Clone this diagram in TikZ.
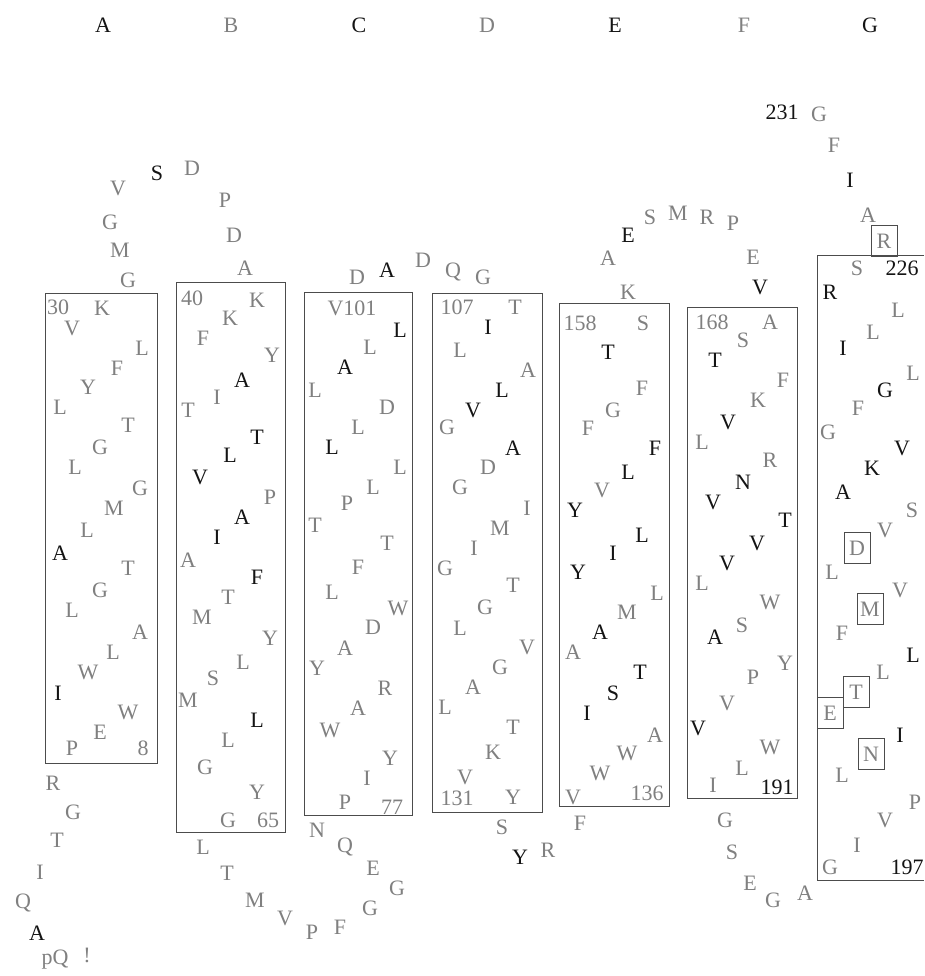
\documentclass[tikz,border=0pt]{standalone}
\usepackage{fontspec}
\setmainfont{Liberation Serif}
\definecolor{resgray}{gray}{0.5}
\definecolor{resblack}{gray}{0.08}
\definecolor{boxline}{gray}{0.3}
\begin{document}
\begin{tikzpicture}[x=1pt,y=-1pt,
 gr/.style={text=resgray,font=\fontsize{22}{26}\selectfont,inner sep=0pt},
 bk/.style={text=resblack,font=\fontsize{22}{26}\selectfont,inner sep=0pt},
 tm/.style={draw=boxline,line width=1pt},
 bx/.style={draw=boxline,line width=0.8pt,minimum width=26pt,minimum height=31pt,inner sep=0pt}]
\useasboundingbox (0,0) rectangle (924,976);
\fill[white] (0,0) rectangle (924,976);
% header
\node[bk] (h1) at (103,25) {A};
\node[gr] (h2) at (231,25) {B};
\node[bk] (h3) at (359,25) {C};
\node[gr] (h4) at (487,25) {D};
\node[bk] (h5) at (615,25) {E};
\node[gr] (h6) at (744,25) {F};
\node[bk] (h7) at (870,25) {G};
% transmembrane boxes
\draw[tm] (45,293) rectangle (157,763);
\draw[tm] (176,282) rectangle (285,832);
\draw[tm] (304,292) rectangle (412,815);
\draw[tm] (432,293) rectangle (542,812);
\draw[tm] (559,303) rectangle (669,806);
\draw[tm] (687,307) rectangle (797,798);
\draw[tm] (924,255) -- (817,255) -- (817,880) -- (924,880);
% loop A-B
\node[gr] (l1) at (128,280) {G};
\node[gr] (l2) at (120,250) {M};
\node[gr] (l3) at (110,222) {G};
\node[gr] (l4) at (118,188) {V};
\node[bk] (l5) at (157,173) {S};
\node[gr] (l6) at (192,168) {D};
\node[gr] (l7) at (225,200) {P};
\node[gr] (l8) at (234,235) {D};
\node[gr] (l9) at (245,268) {A};
% helix A
\node[gr] (a1) at (58,307) {30};
\node[gr] (a2) at (102,308) {K};
\node[gr] (a3) at (72,328) {V};
\node[gr] (a4) at (142,348) {L};
\node[gr] (a5) at (117,368) {F};
\node[gr] (a6) at (88,387) {Y};
\node[gr] (a7) at (60,407) {L};
\node[gr] (a8) at (128,425) {T};
\node[gr] (a9) at (100,447) {G};
\node[gr] (a10) at (75,467) {L};
\node[gr] (a11) at (140,488) {G};
\node[gr] (a12) at (114,508) {M};
\node[gr] (a13) at (87,530) {L};
\node[bk] (a14) at (60,553) {A};
\node[gr] (a15) at (128,568) {T};
\node[gr] (a16) at (100,590) {G};
\node[gr] (a17) at (72,610) {L};
\node[gr] (a18) at (140,632) {A};
\node[gr] (a19) at (113,652) {L};
\node[gr] (a20) at (88,672) {W};
\node[bk] (a21) at (58,693) {I};
\node[gr] (a22) at (128,712) {W};
\node[gr] (a23) at (100,732) {E};
\node[gr] (a24) at (72,748) {P};
\node[gr] (a25) at (143,748) {8};
% N-terminal tail
\node[gr] (n1) at (53,783) {R};
\node[gr] (n2) at (73,812) {G};
\node[gr] (n3) at (57,840) {T};
\node[gr] (n4) at (40,872) {I};
\node[gr] (n5) at (23,903) {Q};
\node[bk] (n6) at (37,933) {A};
\node[gr] (n7) at (55,960) {pQ};
\node[gr] (n8) at (87,955) {!};
% helix B
\node[gr] (b1) at (192,298) {40};
\node[gr] (b2) at (257,300) {K};
\node[gr] (b3) at (230,318) {K};
\node[gr] (b4) at (203,338) {F};
\node[gr] (b5) at (272,355) {Y};
\node[bk] (b6) at (242,380) {A};
\node[gr] (b7) at (217,397) {I};
\node[gr] (b8) at (188,410) {T};
\node[bk] (b9) at (257,437) {T};
\node[bk] (b10) at (230,455) {L};
\node[bk] (b11) at (200,477) {V};
\node[gr] (b12) at (270,497) {P};
\node[bk] (b13) at (242,517) {A};
\node[bk] (b14) at (217,537) {I};
\node[gr] (b15) at (188,560) {A};
\node[bk] (b16) at (257,577) {F};
\node[gr] (b17) at (228,597) {T};
\node[gr] (b18) at (202,617) {M};
\node[gr] (b19) at (270,638) {Y};
\node[gr] (b20) at (243,662) {L};
\node[gr] (b21) at (213,678) {S};
\node[gr] (b22) at (188,700) {M};
\node[bk] (b23) at (257,720) {L};
\node[gr] (b24) at (228,740) {L};
\node[gr] (b25) at (205,767) {G};
\node[gr] (b26) at (257,792) {Y};
\node[gr] (b27) at (228,820) {G};
\node[gr] (b28) at (268,820) {65};
% loop B-C
\node[gr] (m1) at (203,847) {L};
\node[gr] (m2) at (227,873) {T};
\node[gr] (m3) at (255,900) {M};
\node[gr] (m4) at (285,918) {V};
\node[gr] (m5) at (312,932) {P};
\node[gr] (m6) at (340,927) {F};
\node[gr] (m7) at (370,908) {G};
\node[gr] (m8) at (397,888) {G};
\node[gr] (m9) at (373,868) {E};
\node[gr] (m10) at (345,847) {Q};
\node[gr] (m11) at (317,830) {N};
% loop C-D
\node[gr] (o1) at (357,277) {D};
\node[bk] (o2) at (387,270) {A};
\node[gr] (o3) at (423,260) {D};
\node[gr] (o4) at (453,272) {Q};
\node[gr] (o5) at (483,277) {G};
% helix C
\node[gr] (c1) at (352,308) {V101};
\node[bk] (c2) at (400,330) {L};
\node[gr] (c3) at (370,347) {L};
\node[bk] (c4) at (345,367) {A};
\node[gr] (c5) at (315,390) {L};
\node[gr] (c6) at (387,407) {D};
\node[gr] (c7) at (358,427) {L};
\node[bk] (c8) at (332,447) {L};
\node[gr] (c9) at (400,467) {L};
\node[gr] (c10) at (373,487) {L};
\node[gr] (c11) at (347,503) {P};
\node[gr] (c12) at (315,525) {T};
\node[gr] (c13) at (387,543) {T};
\node[gr] (c14) at (358,567) {F};
\node[gr] (c15) at (332,592) {L};
\node[gr] (c16) at (398,608) {W};
\node[gr] (c17) at (373,627) {D};
\node[gr] (c18) at (345,648) {A};
\node[gr] (c19) at (317,668) {Y};
\node[gr] (c20) at (385,688) {R};
\node[gr] (c21) at (358,708) {A};
\node[gr] (c22) at (330,730) {W};
\node[gr] (c23) at (390,758) {Y};
\node[gr] (c24) at (367,778) {I};
\node[gr] (c25) at (345,802) {P};
\node[gr] (c26) at (392,807) {77};
% helix D
\node[gr] (d1) at (457,307) {107};
\node[gr] (d2) at (515,307) {T};
\node[bk] (d3) at (488,327) {I};
\node[gr] (d4) at (460,350) {L};
\node[gr] (d5) at (528,370) {A};
\node[bk] (d6) at (502,390) {L};
\node[bk] (d7) at (473,410) {V};
\node[gr] (d8) at (447,427) {G};
\node[bk] (d9) at (513,448) {A};
\node[gr] (d10) at (488,467) {D};
\node[gr] (d11) at (460,487) {G};
\node[gr] (d12) at (527,508) {I};
\node[gr] (d13) at (500,528) {M};
\node[gr] (d14) at (474,548) {I};
\node[gr] (d15) at (445,568) {G};
\node[gr] (d16) at (513,585) {T};
\node[gr] (d17) at (485,607) {G};
\node[gr] (d18) at (460,628) {L};
\node[gr] (d19) at (527,647) {V};
\node[gr] (d20) at (500,667) {G};
\node[gr] (d21) at (473,687) {A};
\node[gr] (d22) at (445,707) {L};
\node[gr] (d23) at (513,727) {T};
\node[gr] (d24) at (493,752) {K};
\node[gr] (d25) at (465,777) {V};
\node[gr] (d26) at (457,798) {131};
\node[gr] (d27) at (513,797) {Y};
% loop D-E
\node[gr] (p1) at (502,827) {S};
\node[bk] (p2) at (520,857) {Y};
\node[gr] (p3) at (548,850) {R};
\node[gr] (p4) at (580,823) {F};
% helix E
\node[gr] (e1) at (580,323) {158};
\node[gr] (e2) at (643,323) {S};
\node[bk] (e3) at (608,352) {T};
\node[gr] (e4) at (642,388) {F};
\node[gr] (e5) at (613,410) {G};
\node[gr] (e6) at (588,428) {F};
\node[bk] (e7) at (655,448) {F};
\node[bk] (e8) at (628,472) {L};
\node[gr] (e9) at (602,490) {V};
\node[bk] (e10) at (575,510) {Y};
\node[bk] (e11) at (642,535) {L};
\node[bk] (e12) at (613,553) {I};
\node[bk] (e13) at (578,572) {Y};
\node[gr] (e14) at (657,593) {L};
\node[gr] (e15) at (627,612) {M};
\node[bk] (e16) at (600,632) {A};
\node[gr] (e17) at (573,652) {A};
\node[bk] (e18) at (640,672) {T};
\node[bk] (e19) at (613,693) {S};
\node[bk] (e20) at (587,713) {I};
\node[gr] (e21) at (655,735) {A};
\node[gr] (e22) at (627,753) {W};
\node[gr] (e23) at (600,773) {W};
\node[gr] (e24) at (573,797) {V};
\node[gr] (e25) at (647,793) {136};
% loop E-F
\node[gr] (q1) at (628,292) {K};
\node[gr] (q2) at (608,258) {A};
\node[bk] (q3) at (628,235) {E};
\node[gr] (q4) at (650,217) {S};
\node[gr] (q5) at (678,213) {M};
\node[gr] (q6) at (707,217) {R};
\node[gr] (q7) at (733,223) {P};
\node[gr] (q8) at (753,257) {E};
\node[bk] (q9) at (760,287) {V};
% helix F
\node[gr] (f1) at (712,322) {168};
\node[gr] (f2) at (770,322) {A};
\node[gr] (f3) at (743,340) {S};
\node[bk] (f4) at (715,360) {T};
\node[gr] (f5) at (783,380) {F};
\node[gr] (f6) at (758,400) {K};
\node[bk] (f7) at (728,422) {V};
\node[gr] (f8) at (702,442) {L};
\node[gr] (f9) at (770,460) {R};
\node[bk] (f10) at (743,482) {N};
\node[bk] (f11) at (713,502) {V};
\node[bk] (f12) at (785,520) {T};
\node[bk] (f13) at (757,543) {V};
\node[bk] (f14) at (727,563) {V};
\node[gr] (f15) at (702,583) {L};
\node[gr] (f16) at (770,602) {W};
\node[gr] (f17) at (742,625) {S};
\node[bk] (f18) at (715,637) {A};
\node[gr] (f19) at (785,663) {Y};
\node[gr] (f20) at (753,677) {P};
\node[gr] (f21) at (727,703) {V};
\node[bk] (f22) at (698,728) {V};
\node[gr] (f23) at (770,747) {W};
\node[gr] (f24) at (742,768) {L};
\node[gr] (f25) at (713,785) {I};
\node[bk] (f26) at (777,787) {191};
% loop F-G
\node[gr] (r1) at (725,820) {G};
\node[gr] (r2) at (732,852) {S};
\node[gr] (r3) at (750,883) {E};
\node[gr] (r4) at (773,900) {G};
\node[gr] (r5) at (805,893) {A};
% C-terminal
\node[bk] (t1) at (782,112) {231};
\node[gr] (t2) at (819,114) {G};
\node[gr] (t3) at (834,145) {F};
\node[bk] (t4) at (850,180) {I};
\node[gr] (t5) at (868,215) {A};
\node[gr,bx] (t6) at (884,241) {R};
% helix G
\node[gr] (g1) at (857,268) {S};
\node[bk] (g2) at (902,268) {226};
\node[bk] (g3) at (830,292) {R};
\node[gr] (g4) at (898,310) {L};
\node[gr] (g5) at (873,332) {L};
\node[bk] (g6) at (843,348) {I};
\node[gr] (g7) at (913,373) {L};
\node[bk] (g8) at (885,390) {G};
\node[gr] (g9) at (858,408) {F};
\node[gr] (g10) at (828,432) {G};
\node[bk] (g11) at (902,448) {V};
\node[bk] (g12) at (872,468) {K};
\node[bk] (g13) at (843,492) {A};
\node[gr] (g14) at (912,510) {S};
\node[gr] (g15) at (885,530) {V};
\node[gr,bx] (g16) at (857,548) {D};
\node[gr] (g17) at (832,572) {L};
\node[gr] (g18) at (900,590) {V};
\node[gr,bx] (g19) at (870,609) {M};
\node[gr] (g20) at (842,633) {F};
\node[bk] (g21) at (913,655) {L};
\node[gr] (g22) at (883,672) {L};
\node[gr,bx] (g23) at (856,692) {T};
\node[gr,bx] (g24) at (830,713) {E};
\node[bk] (g25) at (900,735) {I};
\node[gr,bx] (g26) at (871,754) {N};
\node[gr] (g27) at (842,775) {L};
\node[gr] (g28) at (915,802) {P};
\node[gr] (g29) at (885,820) {V};
\node[gr] (g30) at (857,845) {I};
\node[gr] (g31) at (830,867) {G};
\node[bk] (g32) at (907,867) {197};
\end{tikzpicture}
\end{document}
